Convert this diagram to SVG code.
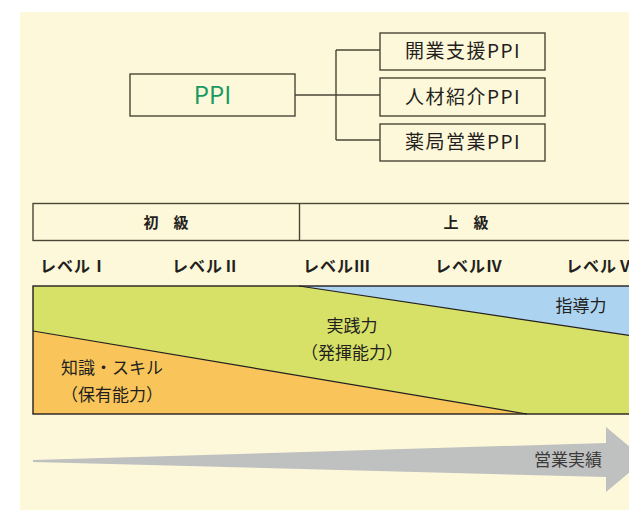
<svg xmlns="http://www.w3.org/2000/svg" width="629" height="510" viewBox="0 0 629 510">
<style>
text{font-family:"Noto Sans CJK JP","Noto Sans",sans-serif;fill:#231f20}
.box{fill:#fef8da;stroke:#4a4637;stroke-width:1.4}
.conn{fill:none;stroke:#4a4637;stroke-width:1.4}
.node{font-size:19px;text-anchor:middle;letter-spacing:1.5px}
.hdr{font-size:15px;font-weight:bold;text-anchor:middle}
.lvl{font-size:16px;font-weight:bold;letter-spacing:1px}
.lbl{font-size:17px;text-anchor:middle}
</style>
<rect x="0" y="0" width="629" height="510" fill="#ffffff"/>
<rect x="20" y="12" width="609" height="498" fill="#fef8da"/>

<g id="connectors">
<path class="conn" d="M295,95 H380 M336,50 V140 M336,50 H380 M336,140 H380"/>
</g>

<g id="node-ppi">
<rect class="box" x="130" y="74" width="165" height="42"/>
<text x="212.5" y="104" font-size="24" text-anchor="middle" style="fill:#1a9a62">PPI</text>
</g>
<g id="node-kaigyo">
<rect class="box" x="380" y="33" width="165" height="37"/>
<text class="node" x="463" y="58">開業支援PPI</text>
</g>
<g id="node-jinzai">
<rect class="box" x="380" y="78" width="165" height="38"/>
<text class="node" x="463" y="104">人材紹介PPI</text>
</g>
<g id="node-yakkyoku">
<rect class="box" x="380" y="124" width="165" height="37"/>
<text class="node" x="463" y="149">薬局営業PPI</text>
</g>

<g id="grade-header">
<rect class="box" x="33" y="203.5" width="600" height="37"/>
<line class="conn" x1="299.5" y1="203.5" x2="299.5" y2="240.5"/>
<text class="hdr" x="166" y="227.5">初　級</text>
<text class="hdr" x="466" y="227.5">上　級</text>
</g>

<g id="levels">
<text class="lvl" x="40" y="272">レベルⅠ</text>
<text class="lvl" x="172" y="272">レベルⅡ</text>
<text class="lvl" x="303" y="272">レベルⅢ</text>
<text class="lvl" x="435" y="272">レベルⅣ</text>
<text class="lvl" x="566" y="272">レベルⅤ</text>
</g>

<g id="chart">
<rect x="33" y="286" width="600" height="128" fill="#d7e168"/>
<polygon points="299,286 633,286 633,336" fill="#acd3ef"/>
<polygon points="33,331 527,414 33,414" fill="#f9c55a"/>
<line x1="299" y1="286" x2="633" y2="336" stroke="#231f20" stroke-width="1.2"/>
<line x1="33" y1="331" x2="527" y2="414" stroke="#231f20" stroke-width="1.2"/>
<rect x="33" y="286" width="600" height="128" fill="none" stroke="#231f20" stroke-width="1.4"/>
<text class="lbl" x="352" y="332">実践力</text>
<text class="lbl" x="352" y="359">（発揮能力）</text>
<text class="lbl" x="581" y="312">指導力</text>
<text class="lbl" x="112" y="374">知識・スキル</text>
<text class="lbl" x="112" y="401">（保有能力）</text>
</g>

<g id="arrow">
<polygon points="33,460 606,443 606,427 645,459.5 606,492 606,477 33,462" fill="#bfc0c0"/>
<text class="lbl" x="568" y="466" style="fill:#3a3a3a">営業実績</text>
</g>
</svg>
